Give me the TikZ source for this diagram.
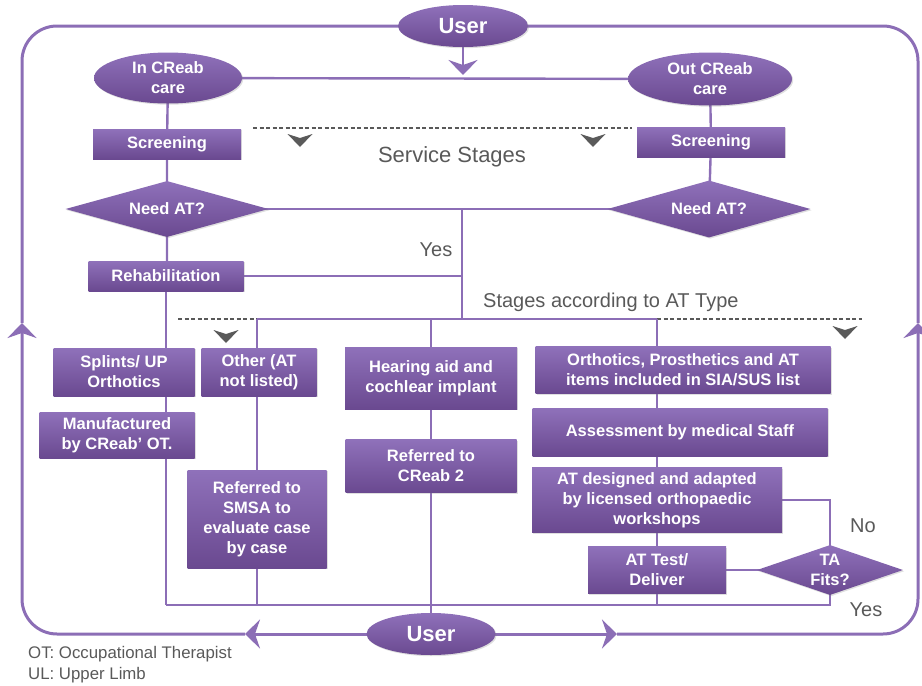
\documentclass[tikz,border=0pt]{standalone}
\usepackage{fontspec}
\setmainfont{Liberation Sans}
\usetikzlibrary{shapes.geometric,arrows.meta,shadows,backgrounds}
\definecolor{boxtop}{HTML}{8F71BA}
\definecolor{boxbot}{HTML}{6A4990}
\definecolor{lineC}{HTML}{8C6EB6}
\definecolor{grayT}{HTML}{595959}
\definecolor{chevC}{HTML}{5A5A5A}
\tikzset{
  base/.style={top color=boxtop, bottom color=boxbot, draw=none, text=white,
    font=\bfseries\fontsize{16.5}{20}\selectfont, align=center, inner sep=0pt,
    drop shadow={opacity=0.25,shadow xshift=1.2pt,shadow yshift=-1.2pt}},
  box/.style={base, rectangle},
  oval/.style={base, ellipse},
  dia/.style={base, diamond, aspect=3.4},
  conn/.style={draw=lineC, line width=2.4pt},
  frame/.style={draw=lineC, line width=3pt},
  dashline/.style={draw=grayT, line width=1.4pt, dash pattern=on 4pt off 2.5pt},
  note/.style={text=grayT, font=\fontsize{20}{24}\selectfont, inner sep=0pt},
  foot/.style={text=grayT, font=\fontsize{16.8}{19}\selectfont, inner sep=0pt},
  >={Stealth[length=15pt,width=29pt,inset=5pt]}
}
\newcommand{\chevron}[2]{\fill[chevC] (#1-12.5,#2-6) -- (#1,#2-2) -- (#1+12.5,#2-6) -- (#1,#2+7) -- cycle;}
\begin{document}
\begin{tikzpicture}[x=1pt,y=-1pt]
\useasboundingbox (0,0) rectangle (922,686);
% nodes
\node[oval, minimum width=130, minimum height=42, font=\bfseries\fontsize{22}{24}\selectfont] (ut) at (463,26) {User};
\node[oval, minimum width=148, minimum height=51] (inc) at (168,78) {In CReab\\care};
\node[oval, minimum width=164, minimum height=53] (outc) at (710,79) {Out CReab\\care};
\node[box, minimum width=148, minimum height=30] (scrL) at (167,144) {Screening};
\node[box, minimum width=148, minimum height=30] (scrR) at (711,142) {Screening};
\node[dia, minimum width=203, minimum height=56] (needL) at (167,209) {Need AT?};
\node[dia, minimum width=203, minimum height=57] (needR) at (709,209) {Need AT?};
\node[box, minimum width=155, minimum height=30] (rehab) at (166,276) {Rehabilitation};
\node[box, minimum width=141, minimum height=48] (splint) at (124,372) {Splints/ UP\\Orthotics};
\node[box, minimum width=155, minimum height=46] (manuf) at (117,435) {Manufactured\\by CReab’ OT.};
\node[box, minimum width=115, minimum height=48] (other) at (259,372) {Other (AT\\not listed)};
\node[box, minimum width=139, minimum height=98] (smsa) at (257,519) {Referred to\\SMSA to\\evaluate case\\by case};
\node[box, minimum width=172, minimum height=62] (hear) at (431,378) {Hearing aid and\\cochlear implant};
\node[box, minimum width=171, minimum height=53] (refc) at (431,466) {Referred to\\CReab 2};
\node[box, minimum width=295, minimum height=47] (orth) at (683,370) {Orthotics, Prosthetics and AT\\items included in SIA/SUS list};
\node[box, minimum width=295, minimum height=48] (assess) at (680,432) {Assessment by medical Staff};
\node[box, minimum width=250, minimum height=65] (atdes) at (657,500) {AT designed and adapted\\by licensed orthopaedic\\workshops};
\node[box, minimum width=138, minimum height=47] (attest) at (657,570) {AT Test/\\Deliver};
\node[dia, minimum width=146, minimum height=50, aspect=3] (ta) at (830,570) {TA\\Fits?};
\node[oval, minimum width=129, minimum height=42, font=\bfseries\fontsize{22}{24}\selectfont] (ub) at (431,634) {User};
% labels
\node[text=grayT, font=\fontsize{22}{26}\selectfont, inner sep=0pt] (svc) at (452,157) {Service Stages};
\node[note, anchor=west] (stg) at (483,302) {Stages according to AT Type};
\node[note] (yes1) at (436,250) {Yes};
\node[note] (no1) at (863,526) {No};
\node[note] (yes2) at (866,610) {Yes};
\node[foot, anchor=base west] (f1) at (28,658) {OT: Occupational Therapist};
\node[foot, anchor=base west] (f2) at (28,679) {UL: Upper Limb};
% coordinates
\coordinate (j1) at (462,209);
\coordinate (j2) at (462,319);
\coordinate (sl) at (257,319);
\coordinate (sm) at (431,319);
\coordinate (sr) at (657,319);
\coordinate (dl) at (178,319);
\coordinate (dr) at (862,319);
\coordinate (cl) at (166,605);
\coordinate (cr) at (830,605);
\coordinate (ds1) at (253,128);
\coordinate (ds2) at (632,128);
\coordinate (al) at (245,634);
\coordinate (ar) at (617,634);
\coordinate (lt) at (22,323);
\coordinate (rt) at (918,323);
\coordinate (tip) at (463,75);
% chevrons
\chevron{300}{140}
\chevron{593}{140}
\chevron{226}{336}
\chevron{845}{332}
\begin{pgfonlayer}{background}
  % frame
  \draw[frame,->] (ub.center) -- (al);
  \draw[frame,->,rounded corners=35pt] (al) -- (22,634) -- (lt);
  \draw[frame,rounded corners=35pt] (lt) -- (22,26) -- (ut.center);
  \draw[frame,->] (ub.center) -- (ar);
  \draw[frame,->,rounded corners=35pt] (ar) -- (918,634) -- (rt);
  \draw[frame,rounded corners=35pt] (rt) -- (918,26) -- (ut.center);
  % top
  \draw[conn,->] (ut.south) -- (tip);
  \draw[conn] (inc.center) -- (outc.center);
  \draw[conn] (inc.center) -- (scrL.center) -- (needL.center) -- (rehab.north -| needL);
  \draw[conn] (outc.center) -- (scrR.center) -- (needR.center);
  \draw[conn] (needL.center) -- (needR.center);
  \draw[conn] (j1) -- (j2);
  \draw[conn] (rehab.center) -- (rehab.center -| j1);
  \draw[dashline] (ds1) -- (ds2);
  % stages
  \draw[conn] (sl) -- (sr);
  \draw[dashline] (dl) -- (sl);
  \draw[dashline] (sr) -- (dr);
  \draw[conn] (rehab.center) -- (cl);
  \draw[conn] (sl) -- (smsa.center) -- (smsa.center |- cl);
  \draw[conn] (sm) -- (ub.center);
  \draw[conn] (sr) -- (attest.center) -- (attest.center |- cl);
  \draw[conn] (cl) -- (cr) -- (ta.center);
  \draw[conn] (attest.center) -- (ta.center);
  \draw[conn] (atdes.center) -| (ta.center);
\end{pgfonlayer}
\end{tikzpicture}
\end{document}
